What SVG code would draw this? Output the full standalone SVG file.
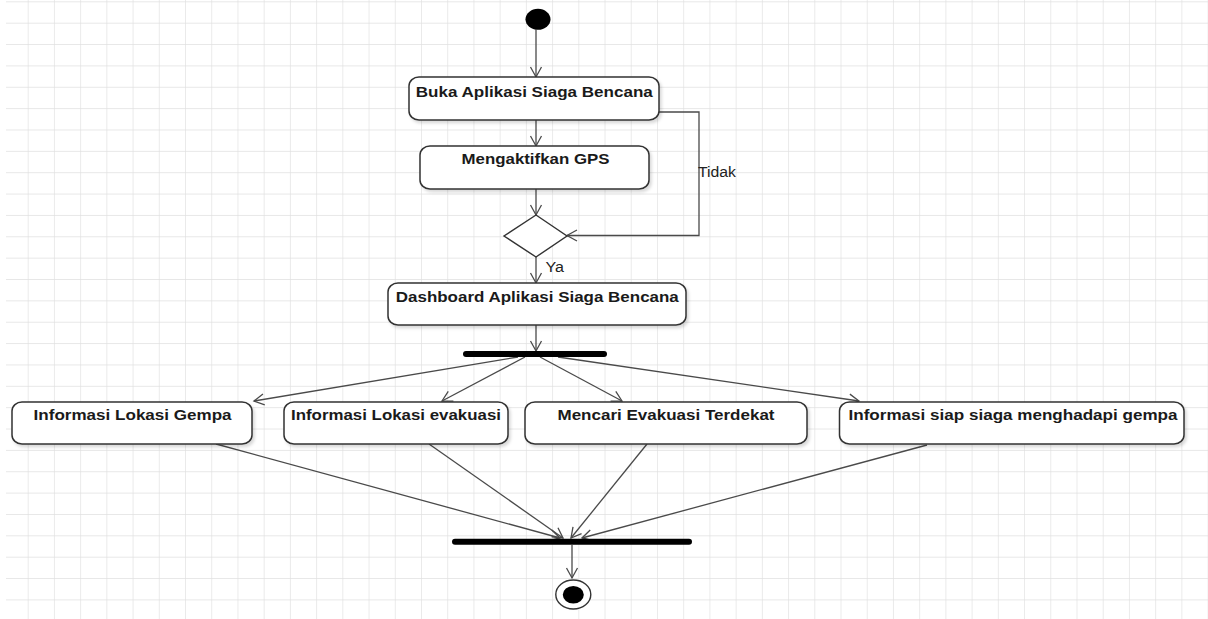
<svg xmlns="http://www.w3.org/2000/svg" width="1208" height="619" viewBox="0 0 1208 619">
<style>
.box{fill:#ffffff;stroke:#333;stroke-width:1.5;filter:url(#sh)}
.lbl{font-family:"Liberation Sans",Arial,sans-serif;font-weight:bold;font-size:15px;fill:#1a1a1a;text-anchor:middle}
.elbl{font-family:"Liberation Sans",Arial,sans-serif;font-size:14px;fill:#222}
.con{fill:none;stroke:#4a4a4a;stroke-width:1.3;marker-end:url(#arr)}
.bar{stroke:#000;stroke-width:6;stroke-linecap:round}
</style>
<defs>
<pattern id="grid" patternUnits="userSpaceOnUse" x="27.7" y="22.7" width="26.22" height="21.36">
<path d="M0 0H26.22M0 0V21.36" fill="none" stroke="#e0e0e0" stroke-width="1.3"/>
</pattern>
<filter id="sh" x="-10%" y="-20%" width="130%" height="160%">
<feDropShadow dx="2" dy="2.5" stdDeviation="1.5" flood-color="#000" flood-opacity="0.15"/>
</filter>
<marker id="arr" markerUnits="userSpaceOnUse" markerWidth="14" markerHeight="14" refX="12" refY="7" orient="auto">
<path d="M2,1.5 L12,7 L2,12.5" fill="none" stroke="#4a4a4a" stroke-width="1.3"/>
</marker>
</defs>
<rect width="1208" height="619" fill="#ffffff"/>
<rect x="6" y="0" width="1202" height="619" fill="url(#grid)"/>

<g id="connectors">
<line class="con" x1="536" y1="30" x2="536" y2="77"/>
<line class="con" x1="536" y1="120" x2="536" y2="146"/>
<line class="con" x1="536" y1="189" x2="536" y2="215"/>
<polyline class="con" points="659,112 699,112 699,235.5 567,235.5"/>
<line class="con" x1="536" y1="257" x2="536" y2="283"/>
<line class="con" x1="536" y1="325" x2="536" y2="351"/>
<line class="con" x1="518" y1="357" x2="254" y2="401"/>
<line class="con" x1="525" y1="357" x2="442" y2="401"/>
<line class="con" x1="540" y1="357" x2="622" y2="401"/>
<line class="con" x1="558" y1="357" x2="859" y2="401"/>
<line class="con" x1="216" y1="444" x2="560" y2="538"/>
<line class="con" x1="429" y1="444" x2="563" y2="538"/>
<line class="con" x1="647" y1="444" x2="571" y2="538"/>
<line class="con" x1="927" y1="445" x2="582" y2="538"/>
<line class="con" x1="572" y1="545" x2="572" y2="578"/>
<text class="elbl" x="698" y="177" textLength="38" lengthAdjust="spacingAndGlyphs">Tidak</text>
<text class="elbl" x="545.5" y="272" textLength="18.5" lengthAdjust="spacingAndGlyphs">Ya</text>
</g>

<g id="start">
<ellipse cx="538" cy="19.3" rx="12.5" ry="10.5" fill="#000"/>
</g>

<g id="buka">
<rect class="box" x="409" y="77" width="250" height="43" rx="10" ry="9"/>
<text class="lbl" x="534.3" y="97" textLength="237" lengthAdjust="spacingAndGlyphs">Buka Aplikasi Siaga Bencana</text>
</g>

<g id="gps">
<rect class="box" x="420" y="146" width="229" height="43" rx="10" ry="9"/>
<text class="lbl" x="535.5" y="164" textLength="148" lengthAdjust="spacingAndGlyphs">Mengaktifkan GPS</text>
</g>

<g id="decision">
<polygon points="536,215 567,236 536,257 504,236" fill="#fff" stroke="#333" stroke-width="1.4"/>
</g>

<g id="dashboard">
<rect class="box" x="388" y="283" width="298" height="42" rx="10" ry="9"/>
<text class="lbl" x="537.3" y="302" textLength="283" lengthAdjust="spacingAndGlyphs">Dashboard Aplikasi Siaga Bencana</text>
</g>

<g id="fork">
<line class="bar" x1="466" y1="354" x2="604" y2="354"/>
</g>

<g id="lokasiGempa">
<rect class="box" x="12" y="402" width="240" height="42" rx="10" ry="9"/>
<text class="lbl" x="132.6" y="420" textLength="198" lengthAdjust="spacingAndGlyphs">Informasi Lokasi Gempa</text>
</g>

<g id="lokasiEvakuasi">
<rect class="box" x="284" y="402" width="224" height="42" rx="10" ry="9"/>
<text class="lbl" x="396" y="420" textLength="210" lengthAdjust="spacingAndGlyphs">Informasi Lokasi evakuasi</text>
</g>

<g id="mencari">
<rect class="box" x="525" y="402" width="282" height="42" rx="10" ry="9"/>
<text class="lbl" x="666" y="420" textLength="217" lengthAdjust="spacingAndGlyphs">Mencari Evakuasi Terdekat</text>
</g>

<g id="siapSiaga">
<rect class="box" x="839.5" y="402" width="344.5" height="42" rx="10" ry="9"/>
<text class="lbl" x="1013" y="420" textLength="329" lengthAdjust="spacingAndGlyphs">Informasi siap siaga menghadapi gempa</text>
</g>

<g id="join">
<line class="bar" x1="455" y1="541.7" x2="689" y2="541.7"/>
</g>

<g id="end">
<ellipse cx="573.3" cy="594.5" rx="17.5" ry="14.5" fill="#fff" stroke="#333" stroke-width="1.4"/>
<ellipse cx="573.3" cy="594.8" rx="10.5" ry="8.8" fill="#000"/>
</g>
</svg>
